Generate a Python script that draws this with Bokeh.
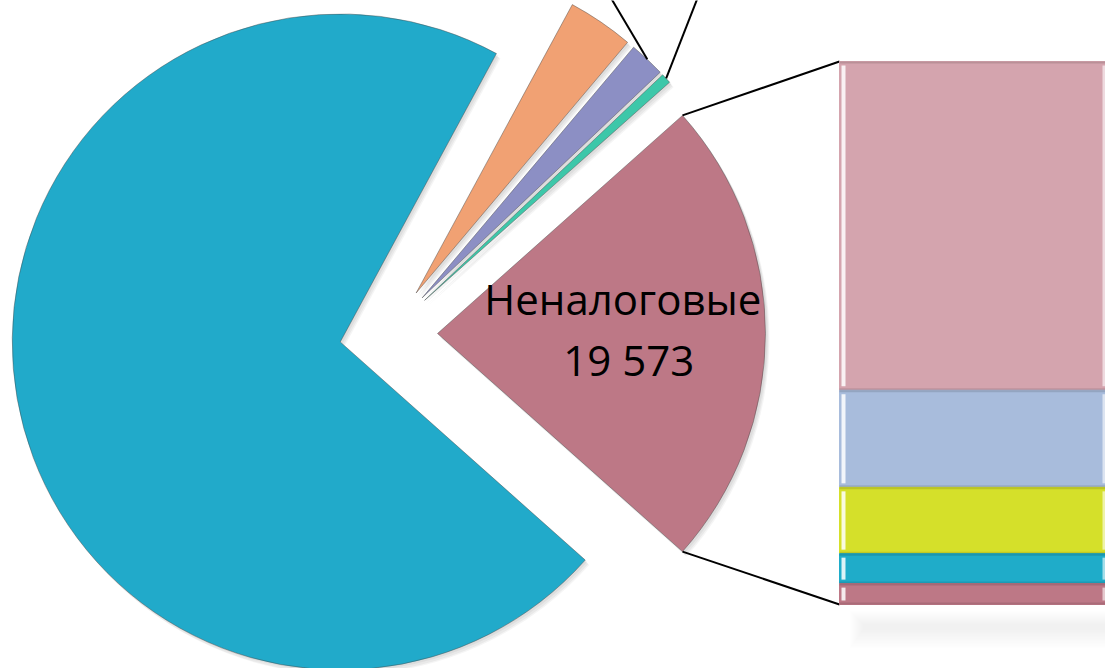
import numpy as np
from bokeh.plotting import figure
from bokeh.models import Range1d
from bokeh.core.properties import value
from bokeh.embed import file_html
from bokeh.resources import INLINE

# ---- data ----
pie_names = ["Неналоговые", "Прочие 3", "Прочие 2", "Прочие 1", "Налоговые"]
pie_values = [19573, 420, 1500, 2750, 60300]
pie_colors = ["#BD7886", "#3DC7A9", "#8C8FC4", "#F1A173", "#21AACA"]

bar_names = ["Доходы 1", "Доходы 2", "Доходы 3", "Доходы 4", "Доходы 5"]
bar_values = [11850, 3500, 2390, 1080, 753]          # top -> bottom, sums to 19 573
bar_colors = ["#D4A4AE", "#A8BCDC", "#D5E02A", "#1FACC9", "#BD7886"]

label_title = "Неналоговые"
label_value = "19 573"

# ---- layout ----
W, H = 1105, 668
def sy(y):
    return H - y

cx, cy = 388, sy(333)
R = 328
EXPLODE = 49
bar_left, bar_right = 839, 1108
bar_top, bar_bottom = sy(61), sy(604)

p = figure(width=W, height=H, x_range=Range1d(0, W), y_range=Range1d(0, H),
           output_backend="svg", toolbar_location=None, min_border=0)
p.axis.visible = False
p.grid.visible = False
p.outline_line_color = None
p.background_fill_color = "white"
p.border_fill_color = "white"

# ---- pie geometry (other slice centred on 0 rad) ----
total = sum(pie_values)
angles = [2 * np.pi * v / total for v in pie_values]
start = -angles[0] / 2
starts, ends = [], []
for a in angles:
    starts.append(start)
    ends.append(start + a)
    start += a
mids = [(s + e) / 2 for s, e in zip(starts, ends)]
ax = [cx + EXPLODE * np.cos(m) for m in mids]
ay = [cy + EXPLODE * np.sin(m) for m in mids]

# soft shadows
for k, (dx, dy, al) in enumerate([(4, -5, 0.06), (3, -4, 0.07), (2, -2, 0.08)]):
    p.wedge(x=[x + dx for x in ax], y=[y + dy for y in ay], radius=R,
            start_angle=starts, end_angle=ends, fill_color="#555555",
            fill_alpha=al, line_color=None)

p.wedge(x=ax, y=ay, radius=R, start_angle=starts, end_angle=ends,
        fill_color=pie_colors, line_color="#4a4a4a", line_alpha=0.45, line_width=1)

# ---- connector lines from "other" slice to bar ----
ox, oy = ax[0], ay[0]
x_up = ox + R * np.cos(ends[0]); y_up = oy + R * np.sin(ends[0])
x_dn = ox + R * np.cos(starts[0]); y_dn = oy + R * np.sin(starts[0])
p.segment(x0=[x_up, x_dn], y0=[y_up, y_dn], x1=[bar_left, bar_left],
          y1=[bar_top, bar_bottom], line_color="black", line_width=2)

# leader lines for the small slices (labels lie outside the visible area)
lead_targets = {1: (700, sy(-10)), 2: (606, sy(-10))}
for i, (tx, ty) in lead_targets.items():
    mx = ax[i] + R * np.cos(mids[i]); my = ay[i] + R * np.sin(mids[i])
    p.segment(x0=[mx], y0=[my], x1=[tx], y1=[ty], line_color="black", line_width=2)

# ---- label of the "other" slice ----
lx = ox + 0.565 * R
p.text(x=[lx], y=[sy(298)], text=[label_title], text_font=value("Open Sans"),
       text_font_size="42px", text_align="center", text_baseline="alphabetic",
       text_color="black")
p.text(x=[lx + 6], y=[sy(359)], text=[label_value], text_font=value("Open Sans"),
       text_font_size="42px", text_align="center", text_baseline="alphabetic",
       text_color="black")

# ---- bar shadow (soft) ----
for k in range(14):
    p.quad(left=bar_left + 10 + k, right=W + 20, top=bar_bottom - 6 - k * 1.0,
           bottom=bar_bottom - 44 + k * 1.4, fill_color="#999999",
           fill_alpha=0.012, line_color=None)

# ---- stacked bar ----
scale = (bar_top - bar_bottom) / sum(bar_values)
tops, bottoms = [], []
cur = bar_top
for v in bar_values:
    tops.append(cur)
    cur -= v * scale
    bottoms.append(cur)
p.quad(left=bar_left, right=bar_right, top=tops, bottom=bottoms,
       fill_color=bar_colors, line_color=bar_colors, line_width=1)
# darker rims at segment edges
p.segment(x0=[bar_left] * len(tops), x1=[bar_right] * len(tops), y0=[t - 1 for t in tops],
          y1=[t - 1 for t in tops], line_color="#000000", line_alpha=0.12, line_width=2)
p.segment(x0=[bar_left] * len(tops), x1=[bar_right] * len(tops), y0=[b + 1 for b in bottoms],
          y1=[b + 1 for b in bottoms], line_color="#000000", line_alpha=0.10, line_width=2)
# bevel highlights
p.quad(left=bar_left + 2, right=bar_left + 6, top=[t - 4 for t in tops],
       bottom=[b + 4 for b in bottoms], fill_color="white", fill_alpha=0.85, line_color=None)
p.quad(left=bar_right - 6, right=bar_right - 3, top=[t - 4 for t in tops],
       bottom=[b + 4 for b in bottoms], fill_color="white", fill_alpha=0.6, line_color=None)

open("out.html", "w").write(file_html(p, INLINE))
